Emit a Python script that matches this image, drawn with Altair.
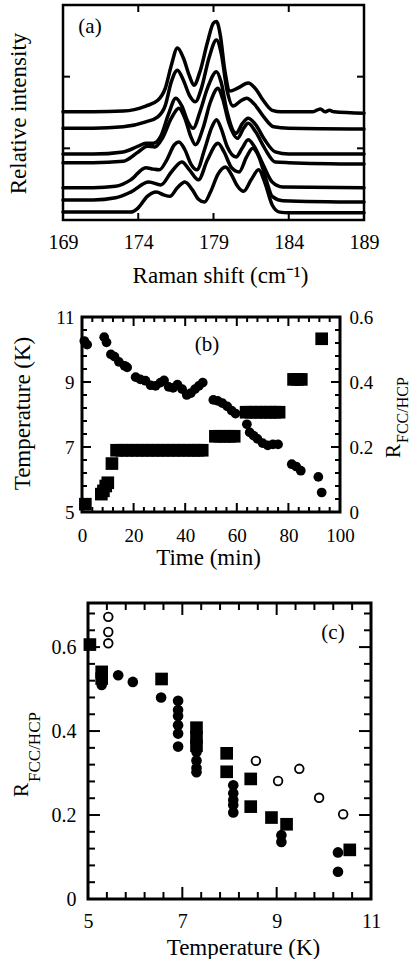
import altair as alt
import pandas as pd

FONT = "Liberation Serif"

# ---------------- (a) Raman spectra, top to bottom ----------------
a_shift_1 = [169, 171, 173, 174.5, 175.3, 175.8, 176.2, 176.6, 177.0, 177.4, 177.7, 178.1, 178.6, 179.0, 179.2,
             179.45, 179.75, 180.1, 180.6, 181.3, 181.8, 182.3, 182.9, 183.5, 185.6, 186.1, 186.4, 186.7, 187, 189]
a_int_1 = [1.51, 1.51, 1.52, 1.59, 1.67, 1.84, 2.16, 2.40, 2.26, 2.01, 1.88, 2.07, 2.48, 2.75, 2.77,
           2.58, 2.09, 1.80, 1.84, 1.91, 1.83, 1.67, 1.53, 1.51, 1.51, 1.55, 1.51, 1.53, 1.51, 1.49]
a_shift_2 = [169, 171, 173, 174.5, 175.3, 175.8, 176.2, 176.6, 177.0, 177.4, 177.8, 178.2, 178.7, 179.2, 179.5,
             179.9, 180.3, 180.8, 181.2, 181.7, 182.3, 183.0, 184, 189]
a_int_2 = [1.28, 1.28, 1.30, 1.37, 1.44, 1.60, 1.93, 2.09, 1.95, 1.74, 1.65, 1.84, 2.26, 2.51, 2.34,
           1.81, 1.59, 1.66, 1.70, 1.62, 1.45, 1.30, 1.28, 1.27]
a_shift_3 = [169, 171, 173, 174.0, 174.5, 175.0, 175.5, 176.0, 176.5, 176.9, 177.3, 177.65, 178.1, 178.6, 179.2,
             179.5, 179.9, 180.5, 180.9, 181.3, 181.8, 182.4, 183.1, 184, 189]
a_int_3 = [0.92, 0.92, 0.95, 1.03, 1.07, 1.07, 1.17, 1.47, 1.70, 1.59, 1.37, 1.28, 1.51, 1.84, 2.07,
           1.93, 1.51, 1.21, 1.34, 1.42, 1.33, 1.12, 0.95, 0.92, 0.92]
a_shift_4 = [169, 171, 173, 174.0, 174.6, 175.1, 175.6, 176.2, 176.7, 177.1, 177.5, 177.8, 178.3, 178.8, 179.3,
             179.6, 180.0, 180.6, 181.0, 181.3, 181.8, 182.4, 183.1, 184, 189]
a_int_4 = [0.80, 0.80, 0.82, 0.95, 1.03, 1.02, 1.14, 1.42, 1.56, 1.42, 1.16, 1.05, 1.28, 1.65, 1.84,
           1.70, 1.37, 1.14, 1.28, 1.35, 1.23, 1.00, 0.81, 0.80, 0.78]
a_shift_5 = [169, 171, 172.5, 173.5, 174.5, 175.0, 175.4, 175.9, 176.4, 176.7, 177.1, 177.5, 177.9, 178.4, 178.9,
             179.2, 179.5, 179.9, 180.5, 180.9, 181.3, 181.7, 182.3, 182.9, 183.6, 189]
a_int_5 = [0.45, 0.45, 0.47, 0.56, 0.73, 0.71, 0.70, 0.84, 1.05, 1.09, 0.98, 0.78, 0.70, 0.98, 1.30,
           1.40, 1.28, 1.03, 0.88, 1.00, 1.12, 1.03, 0.77, 0.53, 0.46, 0.45]
a_shift_6 = [169, 171, 172.5, 173.5, 174.7, 175.5, 176.2, 176.9, 177.4, 178.0, 178.6, 179.3, 179.7, 180.2, 180.7,
             181.2, 181.6, 182.0, 182.5, 182.9, 183.6, 189]
a_int_6 = [0.28, 0.28, 0.31, 0.39, 0.53, 0.49, 0.67, 0.81, 0.70, 0.56, 0.84, 1.07, 0.95, 0.73, 0.67,
           0.88, 1.00, 0.89, 0.56, 0.33, 0.27, 0.25]
a_shift_7 = [169, 171, 173.5, 174.0, 174.6, 175.2, 175.7, 176.1, 176.6, 177.1, 177.6, 178.0, 178.4, 178.8, 179.3,
             179.8, 180.2, 180.6, 181.0, 181.5, 182.0, 182.4, 182.9, 183.4, 184, 189]
a_int_7 = [0.11, 0.11, 0.11, 0.17, 0.33, 0.39, 0.35, 0.33, 0.45, 0.53, 0.42, 0.29, 0.25, 0.39, 0.64,
           0.74, 0.63, 0.47, 0.40, 0.56, 0.70, 0.53, 0.21, 0.11, 0.10, 0.10]
a_xlabels = [169, 174, 179, 184, 189]
a_xticks = [174, 179, 184]
a_yticks = [1, 2]

# ---------------- (b) temperature and R vs time ----------------
b_temp_time = [0.9, 2.0, 8.6, 9.5, 11.2, 12.6, 14.3, 16.5, 17.5, 20.8, 22.6, 24.6, 26.6, 28.5, 30.4, 31.8,
               33.6, 35.3, 37.0, 38.8, 40.6, 42.2, 43.8, 45.3, 46.8, 50.9, 52.6, 54.4, 56.3, 58.0, 59.5,
               63.9, 65.0, 66.5, 68.0, 70.0, 72.0, 74.0, 76.0, 81.3, 83.0, 84.8, 91.6, 92.9]
b_temp = [10.26, 10.15, 10.38, 10.22, 9.85, 9.78, 9.62, 9.50, 9.45, 9.15, 9.08, 9.04, 8.90, 8.88, 8.98, 9.05,
          8.85, 8.82, 8.92, 8.78, 8.60, 8.66, 8.78, 8.88, 8.98, 8.45, 8.42, 8.35, 8.25, 8.12, 8.03,
          7.70, 7.45, 7.35, 7.25, 7.12, 7.05, 7.08, 7.08, 6.47, 6.40, 6.27, 6.08, 5.60]
b_r_time = [1.3, 7.5, 8.3, 9.2, 10.0, 11.6,
            13.4, 15.4, 17.4, 19.4, 21.4, 23.4, 25.4, 27.4, 29.4, 31.4, 33.4, 35.4, 37.4, 39.4, 41.4, 43.4, 45.0, 46.6,
            51.7, 53.5, 55.4, 57.2, 59.0,
            63.6, 65.5, 67.4, 69.3, 71.2, 73.0, 74.8, 76.4,
            82.0, 83.5, 85.0, 92.9]
b_r = [0.024, 0.055, 0.065, 0.080, 0.090, 0.149,
       0.19, 0.19, 0.19, 0.19, 0.19, 0.19, 0.19, 0.19, 0.19, 0.19, 0.19, 0.19, 0.19, 0.19, 0.19, 0.19, 0.19, 0.19,
       0.233, 0.233, 0.233, 0.233, 0.233,
       0.307, 0.307, 0.307, 0.307, 0.307, 0.307, 0.307, 0.307,
       0.408, 0.408, 0.408, 0.533]
b_time_labels = [0, 20, 40, 60, 80, 100]
b_time_minor = [4, 8, 12, 16, 24, 28, 32, 36, 44, 48, 52, 56, 64, 68, 72, 76, 84, 88, 92, 96]
b_temp_labels = [5, 7, 9, 11]
b_temp_minor = [5.4, 5.8, 6.2, 6.6, 7.4, 7.8, 8.2, 8.6, 9.4, 9.8, 10.2, 10.6]
b_r_labels = [0, 0.2, 0.4, 0.6]

# ---------------- (c) R vs temperature ----------------
c_circ_T = [5.29, 5.29, 5.64, 5.95, 6.55, 6.91, 6.91, 6.91, 6.91, 6.91, 6.91, 7.30, 7.30, 7.30, 7.30,
            8.08, 8.08, 8.08, 8.08, 8.08, 9.10, 9.10, 10.30, 10.30]
c_circ_R = [0.521, 0.510, 0.533, 0.517, 0.480, 0.472, 0.450, 0.436, 0.414, 0.394, 0.363, 0.350, 0.330, 0.312, 0.302,
            0.271, 0.252, 0.236, 0.224, 0.206, 0.152, 0.136, 0.111, 0.065]
c_sq_T = [5.04, 5.29, 5.29, 6.56, 7.30, 7.30, 7.30, 7.94, 7.94, 8.45, 8.45, 8.89, 9.21, 10.55]
c_sq_R = [0.606, 0.541, 0.525, 0.524, 0.408, 0.385, 0.365, 0.347, 0.303, 0.286, 0.220, 0.194, 0.178, 0.117]
c_open_T = [5.43, 5.43, 5.43, 8.56, 9.03, 9.48, 9.90, 10.41]
c_open_R = [0.672, 0.636, 0.609, 0.329, 0.281, 0.310, 0.241, 0.202]
c_T_labels = [5, 7, 9, 11]
c_T_minor = [5.4, 5.8, 6.2, 6.6, 7.4, 7.8, 8.2, 8.6, 9.4, 9.8, 10.2, 10.6]
c_R_labels = [0, 0.2, 0.4, 0.6]
c_R_minor = [0.04, 0.08, 0.12, 0.16, 0.24, 0.28, 0.32, 0.36, 0.44, 0.48, 0.52, 0.56, 0.64, 0.68]

# ---------------- page layout (pixels): panel boxes (left, right, top, bottom) ----------------
PAGE_W, PAGE_H = 411, 959
BOX_A = (63, 364, 5, 220)
BOX_B = (82, 340, 317, 512)
BOX_C = (88, 371, 603, 899)

dom_ax, dom_ay = [169, 189], [0, 3]
dom_bx, dom_bt, dom_br = [0, 100], [5, 11], [0, 0.6]
dom_cx, dom_cy = [5, 11], [0, 0.705]


def scales(xdom, ydom, box):
    L, R, T, B = box
    return (alt.Scale(domain=xdom, range=[L, R], nice=False, zero=False),
            alt.Scale(domain=ydom, range=[B, T], nice=False, zero=False))


def ticks(vals, side, xs, ys, xdom, ydom, length, sw=2):
    df = pd.DataFrame({"v": vals})
    if side in ("bottom", "top"):
        d = ydom[0] if side == "bottom" else ydom[1]
        off = -length if side == "bottom" else length
        return alt.Chart(df).mark_rule(color="black", strokeWidth=sw, y2Offset=off).encode(
            x=alt.X("v:Q", scale=xs, axis=None),
            y=alt.YDatum(d, type="quantitative", scale=ys, axis=None),
            y2=alt.Y2Datum(d))
    d = xdom[0] if side == "left" else xdom[1]
    off = length if side == "left" else -length
    return alt.Chart(df).mark_rule(color="black", strokeWidth=sw, x2Offset=off).encode(
        y=alt.Y("v:Q", scale=ys, axis=None),
        x=alt.XDatum(d, type="quantitative", scale=xs, axis=None),
        x2=alt.X2Datum(d))


def all_sides(vals_x, vals_y, xs, ys, xdom, ydom, length, sw=2):
    out = []
    if vals_x:
        out += [ticks(vals_x, "bottom", xs, ys, xdom, ydom, length, sw),
                ticks(vals_x, "top", xs, ys, xdom, ydom, length, sw)]
    if vals_y:
        out += [ticks(vals_y, "left", xs, ys, xdom, ydom, length, sw),
                ticks(vals_y, "right", xs, ys, xdom, ydom, length, sw)]
    return out


def frame(xs, ys, xdom, ydom, sw):
    df = pd.DataFrame({"x": [xdom[0]], "x2": [xdom[1]], "y": [ydom[0]], "y2": [ydom[1]]})
    return alt.Chart(df).mark_rect(fill="transparent", stroke="black", strokeWidth=sw).encode(
        x=alt.X("x:Q", scale=xs, axis=None), x2="x2:Q",
        y=alt.Y("y:Q", scale=ys, axis=None), y2="y2:Q")


def label(text, x, y, size, angle=0, align="center"):
    kw = dict(font=FONT, fontSize=size, color="black", align=align, baseline="middle")
    if angle:
        kw["angle"] = angle
    return alt.Chart(pd.DataFrame({"t": [text]})).mark_text(**kw).encode(
        text="t:N", x=alt.value(x), y=alt.value(y))


def bottom_axis(box, values, fmt, lsize, lpad, title, tx, ty):
    return alt.Axis(orient="bottom", offset=box[3] - PAGE_H, values=values, format=fmt, ticks=False,
                    tickSize=0, domain=False, grid=False, labelFontSize=lsize, labelPadding=lpad,
                    labelBaseline="middle", labelFlush=False, labelOverlap=False,
                    title=title, titleFontSize=23, titleX=tx, titleY=ty,
                    titleAlign="center", titleBaseline="middle")


# ---------------- panel (a) ----------------
rows = []
for i, (xs_, ys_) in enumerate([(a_shift_1, a_int_1), (a_shift_2, a_int_2), (a_shift_3, a_int_3),
                                (a_shift_4, a_int_4), (a_shift_5, a_int_5), (a_shift_6, a_int_6),
                                (a_shift_7, a_int_7)]):
    for x, y in zip(xs_, ys_):
        rows.append({"shift": x, "intensity": y, "trace": i})
df_a = pd.DataFrame(rows)

sxa, sya = scales(dom_ax, dom_ay, BOX_A)
axis_ax = bottom_axis(BOX_A, a_xlabels, "d", 20, 22, "Raman shift (cm⁻¹)", 220, 55)
axis_ay = alt.Axis(orient="left", offset=-BOX_A[0], labels=False, ticks=False, tickSize=0, domain=False,
                   grid=False, title="Relative intensity", titleFontSize=23, titleAngle=270,
                   titleX=-45, titleY=113, titleAlign="center", titleBaseline="middle")
lines_a = alt.Chart(df_a).mark_line(color="black", strokeWidth=3.5, interpolate="monotone",
                                    strokeJoin="round", strokeCap="round").encode(
    x=alt.X("shift:Q", scale=sxa, axis=axis_ax),
    y=alt.Y("intensity:Q", scale=sya, axis=axis_ay),
    detail="trace:N")
layers_a = [lines_a, frame(sxa, sya, dom_ax, dom_ay, 2.5),
            *all_sides(a_xticks, a_yticks, sxa, sya, dom_ax, dom_ay, 7),
            label("(a)", 90, 27, 21)]

# ---------------- panel (b) ----------------
df_bt = pd.DataFrame({"time": b_temp_time, "temp": b_temp})
df_br = pd.DataFrame({"time": b_r_time, "R": b_r})
sxb, syb = scales(dom_bx, dom_bt, BOX_B)
_, syr = scales(dom_bx, dom_br, BOX_B)
axis_bx = bottom_axis(BOX_B, b_time_labels, "d", 19, 23, "Time (min)", 208, 45)
axis_bt = alt.Axis(orient="left", offset=-BOX_B[0], values=b_temp_labels, format="d", ticks=False,
                   tickSize=0, domain=False, grid=False, labelFontSize=19, labelPadding=8,
                   labelFlush=False, labelOverlap=False, title="Temperature (K)", titleFontSize=23,
                   titleAngle=270, titleX=-60, titleY=413, titleAlign="center", titleBaseline="middle")
axis_br = alt.Axis(orient="right", offset=BOX_B[1] - PAGE_W, values=b_r_labels, format=".1~f", ticks=False,
                   tickSize=0, domain=False, grid=False, labelFontSize=19, labelPadding=9,
                   labelFlush=False, labelOverlap=False, title=None)
circ_b = alt.Chart(df_bt).mark_circle(size=95, color="black", opacity=1).encode(
    x=alt.X("time:Q", scale=sxb, axis=axis_bx),
    y=alt.Y("temp:Q", scale=syb, axis=axis_bt))
sq_b = alt.Chart(df_br).mark_square(size=160, color="black", opacity=1).encode(
    x=alt.X("time:Q", scale=sxb, axis=None),
    y=alt.Y("R:Q", scale=syr, axis=axis_br))
layers_b = [circ_b, sq_b, frame(sxb, syb, dom_bx, dom_bt, 3),
            *all_sides(b_time_labels, b_temp_labels, sxb, syb, dom_bx, dom_bt, 9),
            *all_sides(b_time_minor, b_temp_minor, sxb, syb, dom_bx, dom_bt, 5),
            label("(b)", 207, 345, 21),
            label("R", 394, 458, 21, angle=270, align="left"),
            label("FCC/HCP", 403, 443, 16, angle=270, align="left")]

# ---------------- panel (c) ----------------
df_cc = pd.DataFrame({"T": c_circ_T, "R": c_circ_R})
df_cs = pd.DataFrame({"T": c_sq_T, "R": c_sq_R})
df_co = pd.DataFrame({"T": c_open_T, "R": c_open_R})
sxc, syc = scales(dom_cx, dom_cy, BOX_C)
axis_cx = bottom_axis(BOX_C, c_T_labels, "d", 20, 22, "Temperature (K)", 243, 48)
axis_cy = alt.Axis(orient="left", offset=-BOX_C[0], values=c_R_labels, format=".1~f", ticks=False,
                   tickSize=0, domain=False, grid=False, labelFontSize=20, labelPadding=12,
                   labelFlush=False, labelOverlap=False, title=None)
circ_c = alt.Chart(df_cc).mark_circle(size=113, color="black", opacity=1).encode(
    x=alt.X("T:Q", scale=sxc, axis=axis_cx), y=alt.Y("R:Q", scale=syc, axis=axis_cy))
sq_c = alt.Chart(df_cs).mark_square(size=160, color="black", opacity=1).encode(
    x=alt.X("T:Q", scale=sxc, axis=None), y=alt.Y("R:Q", scale=syc, axis=None))
open_c = alt.Chart(df_co).mark_point(shape="circle", filled=False, size=75, color="black",
                                     strokeWidth=1.8, opacity=1).encode(
    x=alt.X("T:Q", scale=sxc, axis=None), y=alt.Y("R:Q", scale=syc, axis=None))
layers_c = [circ_c, sq_c, open_c, frame(sxc, syc, dom_cx, dom_cy, 3),
            *all_sides(c_T_labels, c_R_labels, sxc, syc, dom_cx, dom_cy, 12),
            *all_sides(c_T_minor, c_R_minor, sxc, syc, dom_cx, dom_cy, 7),
            label("(c)", 333, 633, 21),
            label("R", 22, 797, 21, angle=270, align="left"),
            label("FCC/HCP", 35, 782, 17, angle=270, align="left")]

chart = alt.layer(*layers_a, *layers_b, *layers_c).resolve_scale(
    x="independent", y="independent"
).properties(
    width=PAGE_W, height=PAGE_H, padding=0, background="white",
    autosize=alt.AutoSizeParams(type="none")
).configure_view(strokeWidth=0).configure_axis(
    labelFont=FONT, titleFont=FONT, labelColor="black", titleColor="black", titleFontWeight="normal"
).configure_text(font=FONT)

chart.save("out.html", embed_options={"renderer": "svg", "actions": False})
